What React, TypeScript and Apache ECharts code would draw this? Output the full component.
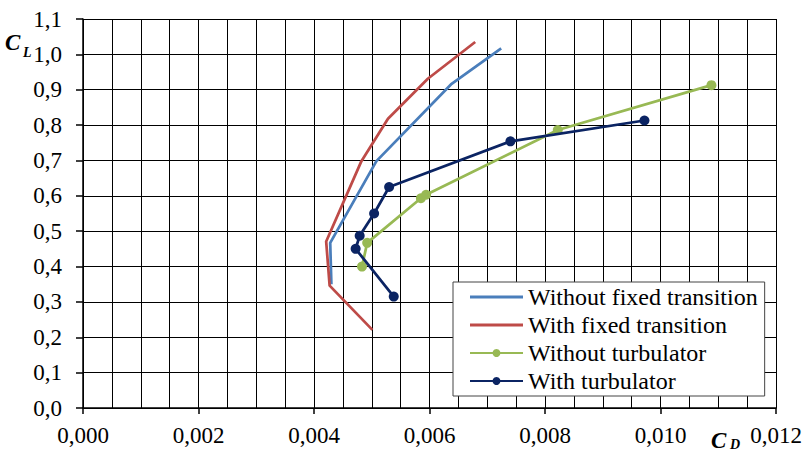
import React, { useEffect, useRef } from "react";
import * as echarts from "echarts";

// C_D (x) / C_L (y) pairs
const withoutFixedTransition: [number, number][] = [
  [0.0043, 0.35],
  [0.00428, 0.467],
  [0.00508, 0.698],
  [0.00637, 0.915],
  [0.00724, 1.017],
];
const withFixedTransition: [number, number][] = [
  [0.00501, 0.221],
  [0.00427, 0.346],
  [0.00421, 0.471],
  [0.00482, 0.698],
  [0.00528, 0.818],
  [0.00597, 0.931],
  [0.00679, 1.035],
];
const withoutTurbulator: [number, number][] = [
  [0.00483, 0.4],
  [0.00492, 0.467],
  [0.00585, 0.593],
  [0.00594, 0.603],
  [0.00822, 0.786],
  [0.01088, 0.913],
];
const withTurbulator: [number, number][] = [
  [0.00538, 0.315],
  [0.00472, 0.45],
  [0.00479, 0.487],
  [0.00504, 0.55],
  [0.0053, 0.625],
  [0.0074, 0.754],
  [0.00972, 0.813],
];

const seriesNames = [
  "Without fixed transition",
  "With fixed transition",
  "Without turbulator",
  "With turbulator",
];
const seriesColors = ["#4A7EBB", "#BE4B48", "#98B954", "#0B2463"];

const FONT = "Liberation Serif";

export default function App() {
  const ref = useRef<HTMLDivElement>(null);
  useEffect(() => {
    if (!ref.current) return;
    const chart = echarts.init(ref.current, undefined, { renderer: "svg" });
    const lineIcon = "path://M0,0h53v3h-53z";
    const datasets = [withoutFixedTransition, withFixedTransition, withoutTurbulator, withTurbulator];
    chart.setOption({
      animation: false,
      backgroundColor: "#fff",
      textStyle: { fontFamily: FONT },
      grid: { left: 83, right: 28, top: 19, bottom: 44, containLabel: false },
      xAxis: {
        type: "value",
        min: 0,
        max: 0.012,
        interval: 0.002,
        axisLine: { show: true, lineStyle: { color: "#000", width: 1.5 } },
        axisTick: { show: true, inside: false, length: 6, lineStyle: { color: "#000", width: 1.5 } },
        axisLabel: {
          margin: 16,
          color: "#000",
          fontFamily: FONT,
          fontSize: 23,
          formatter: (v: number) => v.toFixed(3).replace(".", ","),
        },
        splitLine: { show: true, lineStyle: { color: "#000", width: 1 } },
        minorTick: { show: false, splitNumber: 4 },
        minorSplitLine: { show: true, lineStyle: { color: "#000", width: 1 } },
      },
      yAxis: {
        type: "value",
        min: 0,
        max: 1.1,
        interval: 0.1,
        axisLine: { show: true, lineStyle: { color: "#000", width: 1.5 } },
        axisTick: { show: true, inside: false, length: 7, lineStyle: { color: "#000", width: 1.5 } },
        axisLabel: {
          margin: 21,
          color: "#000",
          fontFamily: FONT,
          fontSize: 23,
          formatter: (v: number) => v.toFixed(1).replace(".", ","),
        },
        splitLine: { show: true, lineStyle: { color: "#000", width: 1 } },
      },
      legend: {
        orient: "vertical",
        left: 453,
        top: 282,
        padding: [3, 7, 3, 16],
        itemGap: 4,
        itemWidth: 53,
        itemHeight: 10,
        backgroundColor: "#fff",
        borderColor: "#444",
        borderWidth: 1,
        borderRadius: 0,
        textStyle: { color: "#000", fontFamily: FONT, fontSize: 24, lineHeight: 24, padding: [0, 0, 0, 0] },
        data: [
          { name: seriesNames[0], icon: lineIcon },
          { name: seriesNames[1], icon: lineIcon },
          { name: seriesNames[2] },
          { name: seriesNames[3] },
        ],
      },
      series: datasets.map((d, i) => ({
        type: "line",
        name: seriesNames[i],
        data: d,
        color: seriesColors[i],
        symbol: i < 2 ? "none" : "circle",
        showSymbol: i >= 2,
        symbolSize: 10,
        lineStyle: { width: 2.75, color: seriesColors[i] },
        itemStyle: { color: seriesColors[i] },
        z: 3 + i,
      })),
      graphic: [
        {
          type: "text",
          left: 5,
          top: 31,
          style: { text: "C", font: `italic bold 23px ${FONT}`, fill: "#000" },
        },
        {
          type: "text",
          left: 23,
          top: 45,
          style: { text: "L", font: `italic bold 14px ${FONT}`, fill: "#000" },
        },
        {
          type: "text",
          left: 711,
          top: 429,
          style: { text: "C", font: `italic bold 23px ${FONT}`, fill: "#000" },
        },
        {
          type: "text",
          left: 730,
          top: 437,
          style: { text: "D", font: `italic bold 14px ${FONT}`, fill: "#000" },
        },
      ],
    });
    return () => chart.dispose();
  }, []);
  return <div ref={ref} style={{ width: 805, height: 452, position: "absolute", left: 0, top: 0 }} />;
}
